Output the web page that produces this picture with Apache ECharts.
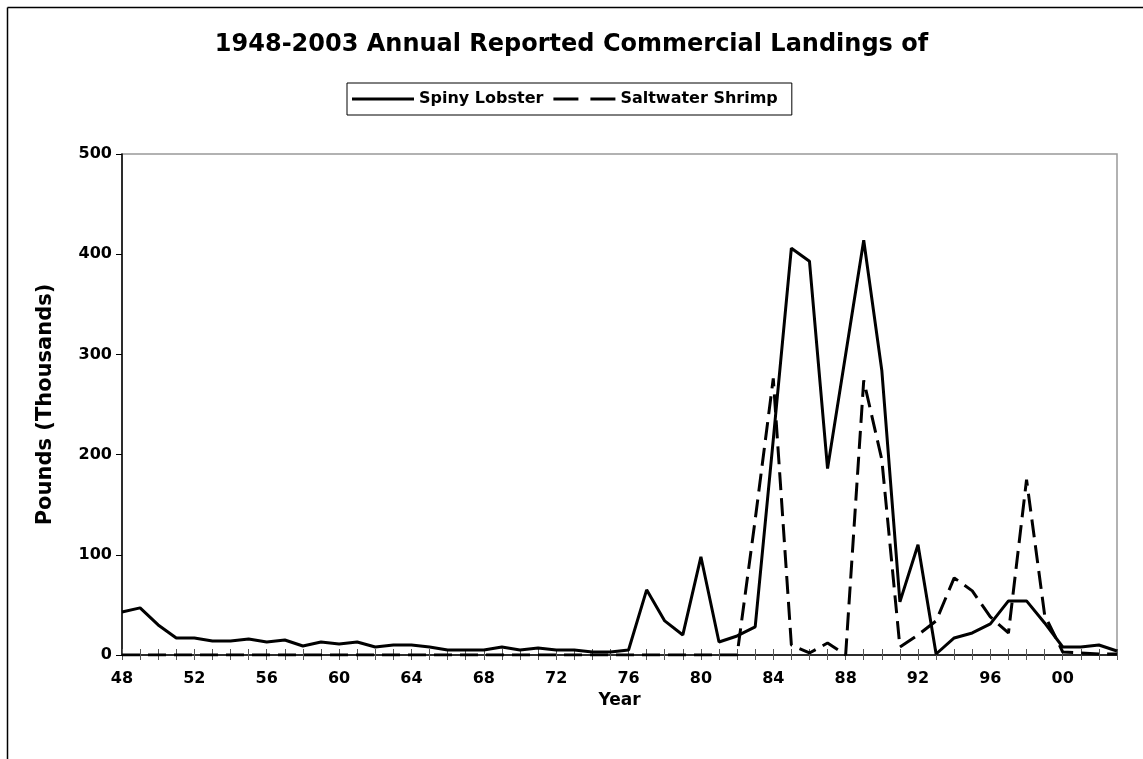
<!DOCTYPE html>
<html>
<head>
<meta charset="utf-8">
<script src="https://cdn.jsdelivr.net/npm/echarts@6/dist/echarts.min.js"></script>
<style>
html,body{margin:0;padding:0;background:#fff;}
#c{width:1143px;height:759px;}
</style>
</head>
<body>
<div id="c"></div>
<script>
const years = ['48','49','50','51','52','53','54','55','56','57','58','59','60','61','62','63','64','65','66','67','68','69','70','71','72','73','74','75','76','77','78','79','80','81','82','83','84','85','86','87','88','89','90','91','92','93','94','95','96','97','98','99','00','01','02','03'];
const spinyLobster = [43,47,30,17,17,14,14,16,13,15,9,13,11,13,8,10,10,8,5,5,5,8,5,7,5,5,3,3,5,65,34,20,98,13,19,28,215,406,393,186,300,414,284,53,110,1,17,22,31,54,54,32,8,8,10,4];
const saltwaterShrimp = [0,0,0,0,0,0,0,0,0,0,0,0,0,0,0,0,0,0,0,0,0,0,0,0,0,0,0,0,0,0,0,0,0,0,0,135,276,10,2,12,0,274,195,8,20,34,77,64,38,22,175,40,3,2,1,1];
const yTicks = [0,100,200,300,400,500];

const FONT = 'DejaVu Sans';
const chart = echarts.init(document.getElementById('c'), null, {renderer:'canvas'});
chart.setOption({
  backgroundColor:'#fff',
  animation:false,
  title:{
    text:'1948-2003 Annual Reported Commercial Landings of',
    left:'center', top:28,
    textStyle:{fontFamily:FONT,fontWeight:'bold',fontSize:24,color:'#000'}
  },
  legend:{
    left:347, top:83,
    padding:[8,14,8,5],
    borderColor:'#000', borderWidth:1,
    itemWidth:62, itemHeight:3, itemGap:10,
    textStyle:{fontFamily:FONT,fontWeight:'bold',fontSize:16,color:'#000'},
    data:[
      {name:'Spiny Lobster',icon:'path://M0,0H62V3H0Z'},
      {name:'Saltwater Shrimp',icon:'path://M0,0H25V3H0Z M37,0H62V3H37Z'}
    ]
  },
  graphic:[
    {type:'line',shape:{x1:7.5,y1:7.5,x2:7.5,y2:770},style:{stroke:'#000',lineWidth:1.5},z:100},
    {type:'line',shape:{x1:7.5,y1:7.5,x2:1143,y2:7.5},style:{stroke:'#000',lineWidth:1.5},z:100}
  ],
  grid:{left:122,right:26,top:154,bottom:104,show:true,borderColor:'#999',borderWidth:1.5,backgroundColor:'transparent'},
  xAxis:[{
    type:'category', data:years, boundaryGap:false,
    name:'Year', nameLocation:'middle', nameGap:32,
    nameTextStyle:{fontFamily:FONT,fontWeight:'bold',fontSize:17,color:'#000'},
    axisLine:{lineStyle:{color:'#000',width:1.5}},
    axisTick:{show:true,interval:0,length:5,lineStyle:{color:'#555'}},
    axisLabel:{interval:3,margin:16,fontFamily:FONT,fontWeight:'bold',fontSize:16,color:'#000'},
    splitLine:{show:false}
  },{
    type:'category', data:years, boundaryGap:false, position:'bottom', gridIndex:0,
    axisLine:{show:false},
    axisTick:{show:true,inside:true,interval:0,length:6,lineStyle:{color:'#555'}},
    axisLabel:{show:false}, splitLine:{show:false}
  }],
  yAxis:{
    type:'value', min:yTicks[0], max:yTicks[yTicks.length-1], interval:100,
    name:'Pounds (Thousands)', nameLocation:'middle', nameGap:66,
    nameTextStyle:{fontFamily:FONT,fontWeight:'bold',fontSize:21,color:'#000'},
    axisLine:{show:true,lineStyle:{color:'#000',width:1.5}},
    axisTick:{show:true,length:6,lineStyle:{color:'#000'}},
    axisLabel:{margin:10,fontFamily:FONT,fontWeight:'bold',fontSize:16,color:'#000'},
    splitLine:{show:false}
  },
  series:[
    {name:'Spiny Lobster',type:'line',data:spinyLobster,symbol:'none',
     lineStyle:{color:'#000',width:3},itemStyle:{color:'#000'}},
    {name:'Saltwater Shrimp',type:'line',data:saltwaterShrimp,symbol:'none',
     lineStyle:{color:'#000',width:3,type:[18,8]},itemStyle:{color:'#000'}}
  ]
});
</script>
</body>
</html>
